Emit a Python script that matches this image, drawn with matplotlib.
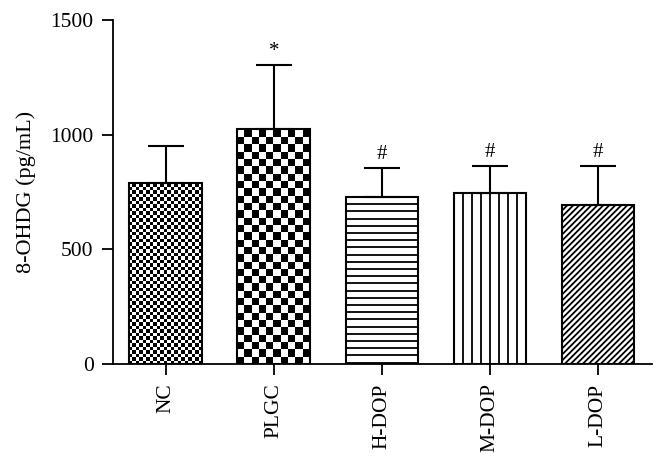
import numpy as np
import matplotlib
matplotlib.use("Agg")
import matplotlib.pyplot as plt
from matplotlib.collections import LineCollection

categories = ["NC", "PLGC", "H-DOP", "M-DOP", "L-DOP"]
means = [789, 1025, 728, 747, 693]
errors = [161, 279, 127, 116, 170]
marks = ["", "*", "#", "#", "#"]
yticks = [0, 500, 1000, 1500]

plt.rcParams['font.family'] = ['Liberation Serif', 'DejaVu Serif']

fig = plt.figure(figsize=(6.68, 4.70), dpi=100)
ax = fig.add_axes([113/668, 1-364/470, (652-113)/668, (364-20)/470])

x = np.arange(len(categories))
width = 0.675
bars = ax.bar(x, means, width=width, color="white", edgecolor="black",
              linewidth=1.5, zorder=3)
for b in bars:
    b.set_facecolor("none")

ax.set_xlim(-0.49, 4.5)
ax.set_ylim(0, 1500)
fig.canvas.draw()
px_per_x = ax.transData.transform((1, 0))[0] - ax.transData.transform((0, 0))[0]
px_per_y = ax.transData.transform((0, 1))[1] - ax.transData.transform((0, 0))[1]


def clip_lines(segs, bar):
    lc = LineCollection(segs, colors="black", linewidths=1.3, zorder=2)
    ax.add_collection(lc)
    lc.set_clip_path(bar)


# checkerboard fills for NC (fine) and PLGC (coarse)
cells_across = {0: 21, 1: 10}
for i, n in cells_across.items():
    b = bars[i]
    cw = width / n
    ch = cw * px_per_x / px_per_y
    rows = int(np.ceil(means[i] / ch))
    pat = (np.add.outer(np.arange(rows), np.arange(n)) % 2).astype(float)
    pat = pat[::-1]
    x0 = b.get_x()
    im = ax.imshow(pat, cmap="gray", vmin=0, vmax=1, interpolation="nearest",
                   extent=(x0, x0 + width, 0, rows * ch), aspect="auto",
                   origin="upper", zorder=1.5)
    im.set_clip_path(b)

# H-DOP: horizontal lines
b = bars[2]
x0, h = b.get_x(), b.get_height()
dy = 7.2 / px_per_y
ys = np.arange(h, 0, -dy)
clip_lines([[(x0, yy), (x0 + width, yy)] for yy in ys], b)

# M-DOP: vertical lines
b = bars[3]
x0, h = b.get_x(), b.get_height()
xs = np.linspace(x0, x0 + width, 9)[1:-1]
clip_lines([[(xx, 0), (xx, h)] for xx in xs], b)

# L-DOP: diagonal lines
b = bars[4]
x0, h = b.get_x(), b.get_height()
w_px, h_px = width * px_per_x, h * px_per_y
cs = np.arange(-h_px, w_px + 6, 6.0)
clip_lines([[(x0 + c / px_per_x, 0), (x0 + (c + h_px) / px_per_x, h)] for c in cs], b)

ax.set_xlim(-0.49, 4.5)
ax.set_ylim(0, 1500)

ax.errorbar(x, means, yerr=[np.zeros(len(means)), errors], fmt="none",
            ecolor="black", elinewidth=1.5, capsize=13, capthick=1.5, zorder=4)

for xi, m, e, t in zip(x, means, errors, marks):
    if t:
        ax.annotate(t, (xi, m + e), xytext=(0, 3), textcoords="offset points",
                    ha="center", va="bottom", fontsize=15)

ax.spines["top"].set_visible(False)
ax.spines["right"].set_visible(False)
ax.spines["left"].set_linewidth(1.3)
ax.spines["bottom"].set_linewidth(1.3)
ax.set_yticks(yticks)
ax.set_xticks(x)
ax.set_xticklabels(categories, rotation=90, fontsize=15.5)
ax.tick_params(axis="y", labelsize=15.5, length=8, width=1.3, pad=6)
ax.tick_params(axis="x", length=8, width=1.3, pad=6)
ax.set_ylabel("8-OHDG (pg/mL)", fontsize=16, labelpad=10)

fig.savefig("out.png", dpi=100)
